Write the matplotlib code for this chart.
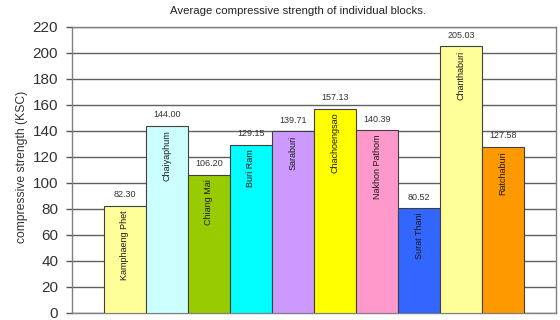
import matplotlib.pyplot as plt
import numpy as np

# average compressive strength per province (KSC)
provinces = ["Kamphaeng Phet", "Chaiyaphum", "Chiang Mai", "Buri Ram", "Saraburi",
             "Chachoengsao", "Nakhon Pathom", "Surat Thani", "Chanthaburi", "Ratchaburi"]
strength = [82.30, 144.00, 106.20, 129.15, 139.71, 157.13, 140.39, 80.52, 205.03, 127.58]
bar_colors = ["#FFFF99", "#CCFFFF", "#99CC00", "#00FFFF", "#CC99FF",
              "#FFFF00", "#FF99CC", "#3366FF", "#FFFF99", "#FF9900"]
y_ticks = list(range(0, 221, 20))

plt.rcParams['font.family'] = ['Liberation Sans', 'DejaVu Sans']

fig = plt.figure(figsize=(5.6, 3.2), dpi=100)
ax = fig.add_axes([0.1286, 0.022, 0.8643, 0.894])

x = np.arange(len(provinces))
bars = ax.bar(x, strength, width=1.0, color=bar_colors,
              edgecolor="#404040", linewidth=0.8, zorder=3)

# value above each bar, name rotated inside the top of each bar
for xi, val, name in zip(x, strength, provinces):
    ax.annotate(f"{val:.2f}", (xi, val), xytext=(0, 8), textcoords="offset points",
                ha="center", va="center", fontsize=6.5, color="#333333", zorder=4)
    ax.annotate(name, (xi, val), xytext=(0, -3), textcoords="offset points",
                ha="center", va="top", rotation=90, fontsize=6.5,
                color="#1a1a1a", zorder=4)

ax.set_xlim(-1.26, len(provinces) - 1 + 1.26)
ax.set_ylim(0, 220)
ax.set_yticks(y_ticks)
ax.set_xticks([])
ax.tick_params(axis="y", labelsize=11, labelcolor="#333333", length=4,
               width=1, color="#555555", pad=6)
ax.yaxis.grid(True, color="#606060", linewidth=1, zorder=0)
for side in ["top", "right", "left", "bottom"]:
    ax.spines[side].set_color("#808080")
    ax.spines[side].set_linewidth(1)

ax.set_ylabel("compressive strength (KSC)", fontsize=8.7, color="#333333")
ax.yaxis.set_label_coords(-0.09, 0.51)
fig.text(0.532, 0.966, "Average compressive strength of individual blocks.",
         ha="center", va="center", fontsize=8.2, color="#222222")

fig.savefig("out.png", dpi=100)
